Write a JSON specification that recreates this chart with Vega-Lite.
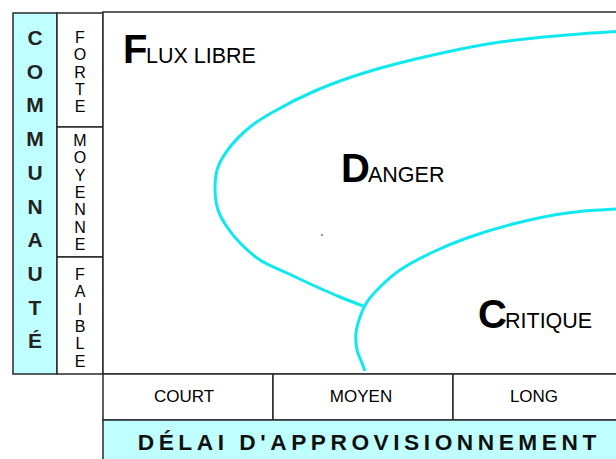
{
  "$schema": "https://vega.github.io/schema/vega-lite/v6.json",
  "width": 616,
  "height": 459,
  "padding": 0,
  "autosize": "none",
  "background": "white",
  "config": {"view": {"stroke": null}, "text": {"font": "Liberation Sans", "color": "black"}},
  "datasets": {
    "cells": [
      {"x": 13, "x2": 57, "y": 13, "y2": 374, "kind": "titre"},
      {"x": 57, "x2": 103, "y": 13, "y2": 127, "kind": "case"},
      {"x": 57, "x2": 103, "y": 127, "y2": 257, "kind": "case"},
      {"x": 57, "x2": 103, "y": 257, "y2": 374, "kind": "case"},
      {"x": 103, "x2": 622, "y": 12, "y2": 374, "kind": "case"},
      {"x": 103, "x2": 273, "y": 374, "y2": 420, "kind": "case"},
      {"x": 273, "x2": 453, "y": 374, "y2": 420, "kind": "case"},
      {"x": 453, "x2": 622, "y": 374, "y2": 420, "kind": "case"},
      {"x": 103, "x2": 622, "y": 420, "y2": 470, "kind": "titre"}
    ],
    "curves": [
      {"c": "externe", "i": 0, "x": 616, "y": 31.5},
      {"c": "externe", "i": 1, "x": 567, "y": 35},
      {"c": "externe", "i": 2, "x": 500, "y": 42},
      {"c": "externe", "i": 3, "x": 433, "y": 55},
      {"c": "externe", "i": 4, "x": 367, "y": 72},
      {"c": "externe", "i": 5, "x": 317, "y": 90},
      {"c": "externe", "i": 6, "x": 273, "y": 112},
      {"c": "externe", "i": 7, "x": 250, "y": 127},
      {"c": "externe", "i": 8, "x": 230, "y": 147},
      {"c": "externe", "i": 9, "x": 218, "y": 167},
      {"c": "externe", "i": 10, "x": 215, "y": 187},
      {"c": "externe", "i": 11, "x": 218, "y": 210},
      {"c": "externe", "i": 12, "x": 227, "y": 227},
      {"c": "externe", "i": 13, "x": 240, "y": 243},
      {"c": "externe", "i": 14, "x": 260, "y": 260},
      {"c": "externe", "i": 15, "x": 287, "y": 273},
      {"c": "externe", "i": 16, "x": 317, "y": 287},
      {"c": "externe", "i": 17, "x": 340, "y": 297},
      {"c": "externe", "i": 18, "x": 363, "y": 306},
      {"c": "interne", "i": 0, "x": 616, "y": 209},
      {"c": "interne", "i": 1, "x": 567, "y": 213},
      {"c": "interne", "i": 2, "x": 517, "y": 223},
      {"c": "interne", "i": 3, "x": 467, "y": 238},
      {"c": "interne", "i": 4, "x": 433, "y": 252},
      {"c": "interne", "i": 5, "x": 400, "y": 270},
      {"c": "interne", "i": 6, "x": 380, "y": 287},
      {"c": "interne", "i": 7, "x": 367, "y": 302},
      {"c": "interne", "i": 8, "x": 360, "y": 317},
      {"c": "interne", "i": 9, "x": 356, "y": 333},
      {"c": "interne", "i": 10, "x": 357, "y": 350},
      {"c": "interne", "i": 11, "x": 362, "y": 363},
      {"c": "interne", "i": 12, "x": 365, "y": 371}
    ],
    "labels": [
      {"role": "initiale", "x": 123, "y": 63, "label": "F"},
      {"role": "initiale", "x": 341, "y": 182, "label": "D"},
      {"role": "initiale", "x": 478, "y": 328, "label": "C"},
      {"role": "suite", "x": 146, "y": 63, "label": "LUX LIBRE"},
      {"role": "suite", "x": 368, "y": 182, "label": "ANGER"},
      {"role": "suite", "x": 505, "y": 328, "label": "RITIQUE"},
      {"role": "communaute", "x": 35, "y": 45, "label": "C\nO\nM\nM\nU\nN\nA\nU\nT\nÉ"},
      {"role": "niveau", "x": 80, "y": 43, "label": "F\nO\nR\nT\nE"},
      {"role": "niveau", "x": 80, "y": 146, "label": "M\nO\nY\nE\nN\nN\nE"},
      {"role": "niveau", "x": 80, "y": 280, "label": "F\nA\nI\nB\nL\nE"},
      {"role": "duree", "x": 184, "y": 397, "label": "COURT"},
      {"role": "duree", "x": 361, "y": 397, "label": "MOYEN"},
      {"role": "duree", "x": 534, "y": 397, "label": "LONG"},
      {"role": "delai", "x": 367, "y": 443, "label": "D\u2009É\u2009L\u2009A\u2009I\u2009 \u2009D\u2009'\u2009A\u2009P\u2009P\u2009R\u2009O\u2009V\u2009I\u2009S\u2009I\u2009O\u2009N\u2009N\u2009E\u2009M\u2009E\u2009N\u2009T"}
    ],
    "dot": [{"x": 322, "y": 235}]
  },
  "layer": [
    {
      "data": {"name": "cells"},
      "mark": {"type": "rect", "stroke": "#2a2a2a", "strokeWidth": 1.5},
      "encoding": {
        "x": {"field": "x", "type": "quantitative", "scale": {"domain": [0, 616], "nice": false, "zero": false}, "axis": null},
        "x2": {"field": "x2"},
        "y": {"field": "y", "type": "quantitative", "scale": {"domain": [0, 459], "nice": false, "zero": false, "reverse": true}, "axis": null},
        "y2": {"field": "y2"},
        "fill": {"field": "kind", "type": "nominal", "scale": {"domain": ["titre", "case"], "range": ["#c0ffff", "#ffffff"]}, "legend": null}
      }
    },
    {
      "data": {"name": "curves"},
      "mark": {"type": "line", "interpolate": "catmull-rom", "color": "#10e8f0", "strokeWidth": 3},
      "encoding": {
        "x": {"field": "x", "type": "quantitative", "axis": null},
        "y": {"field": "y", "type": "quantitative", "axis": null},
        "detail": {"field": "c", "type": "nominal"},
        "order": {"field": "i", "type": "quantitative"}
      }
    },
    {
      "data": {"name": "dot"},
      "mark": {"type": "square", "size": 2, "color": "#333", "opacity": 1, "filled": true},
      "encoding": {
        "x": {"field": "x", "type": "quantitative", "axis": null},
        "y": {"field": "y", "type": "quantitative", "axis": null}
      }
    },
    {
      "data": {"name": "labels"},
      "transform": [{"filter": "datum.role === 'initiale'"}],
      "mark": {"type": "text", "fontSize": 40, "fontWeight": "bold", "align": "left", "baseline": "alphabetic"},
      "encoding": {
        "x": {"field": "x", "type": "quantitative", "axis": null},
        "y": {"field": "y", "type": "quantitative", "axis": null},
        "text": {"field": "label"}
      }
    },
    {
      "data": {"name": "labels"},
      "transform": [{"filter": "datum.role === 'suite'"}],
      "mark": {"type": "text", "fontSize": 21.5, "align": "left", "baseline": "alphabetic"},
      "encoding": {
        "x": {"field": "x", "type": "quantitative", "axis": null},
        "y": {"field": "y", "type": "quantitative", "axis": null},
        "text": {"field": "label"}
      }
    },
    {
      "data": {"name": "labels"},
      "transform": [{"filter": "datum.role === 'communaute'"}],
      "mark": {"type": "text", "fontSize": 21, "fontWeight": "bold", "align": "center", "baseline": "alphabetic", "lineBreak": "\n", "lineHeight": 33.7, "color": "#222"},
      "encoding": {
        "x": {"field": "x", "type": "quantitative", "axis": null},
        "y": {"field": "y", "type": "quantitative", "axis": null},
        "text": {"field": "label"}
      }
    },
    {
      "data": {"name": "labels"},
      "transform": [{"filter": "datum.role === 'niveau'"}],
      "mark": {"type": "text", "fontSize": 16, "align": "center", "baseline": "alphabetic", "lineBreak": "\n", "lineHeight": 17.3},
      "encoding": {
        "x": {"field": "x", "type": "quantitative", "axis": null},
        "y": {"field": "y", "type": "quantitative", "axis": null},
        "text": {"field": "label"}
      }
    },
    {
      "data": {"name": "labels"},
      "transform": [{"filter": "datum.role === 'duree'"}],
      "mark": {"type": "text", "fontSize": 17, "align": "center", "baseline": "middle"},
      "encoding": {
        "x": {"field": "x", "type": "quantitative", "axis": null},
        "y": {"field": "y", "type": "quantitative", "axis": null},
        "text": {"field": "label"}
      }
    },
    {
      "data": {"name": "labels"},
      "transform": [{"filter": "datum.role === 'delai'"}],
      "mark": {"type": "text", "fontSize": 22.7, "fontWeight": "bold", "align": "center", "baseline": "middle", "color": "#111"},
      "encoding": {
        "x": {"field": "x", "type": "quantitative", "axis": null},
        "y": {"field": "y", "type": "quantitative", "axis": null},
        "text": {"field": "label"}
      }
    }
  ]
}
